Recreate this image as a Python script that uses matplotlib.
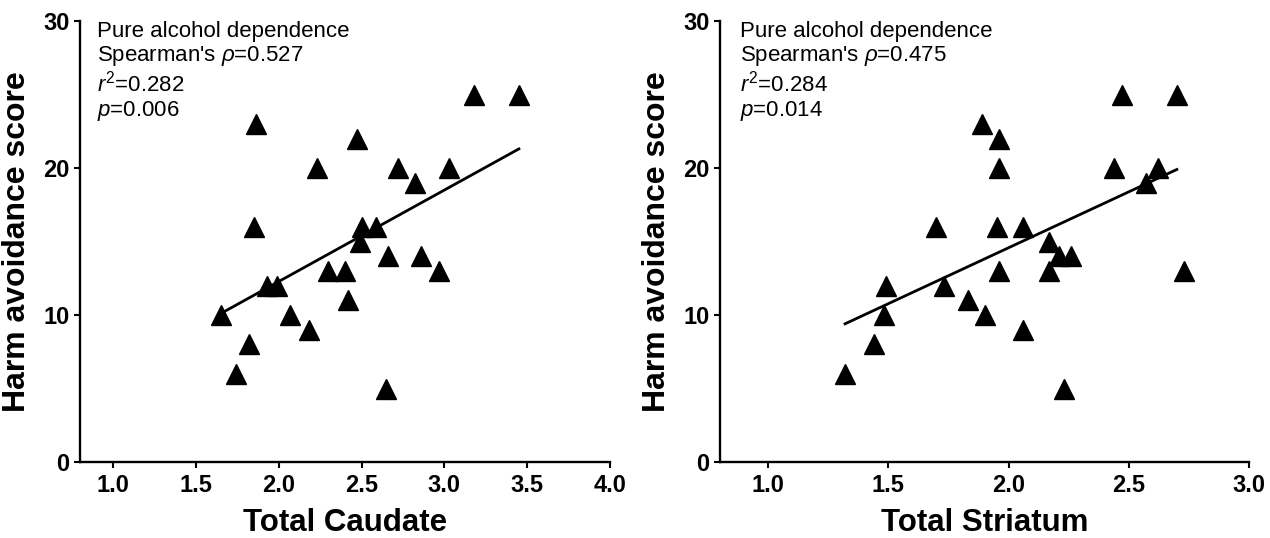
import numpy as np
import matplotlib
matplotlib.use("Agg")
import matplotlib.pyplot as plt

plt.rcParams['font.family'] = ['Liberation Sans', 'DejaVu Sans']
plt.rcParams['mathtext.fontset'] = 'custom'
plt.rcParams['mathtext.rm'] = 'Liberation Sans'
plt.rcParams['mathtext.it'] = 'Liberation Sans:italic'
plt.rcParams['mathtext.bf'] = 'Liberation Sans:bold'

# Left panel: Total Caudate vs Harm avoidance score
caudate_x = [1.65, 1.74, 1.82, 1.85, 1.86, 1.93, 1.99, 2.07, 2.18, 2.23, 2.30, 2.40, 2.42,
             2.47, 2.49, 2.50, 2.59, 2.65, 2.66, 2.72, 2.82, 2.86, 2.97, 3.03, 3.18, 3.45]
caudate_y = [10, 6, 8, 16, 23, 12, 12, 10, 9, 20, 13, 13, 11,
             22, 15, 16, 16, 5, 14, 20, 19, 14, 13, 20, 25, 25]

# Right panel: Total Striatum vs Harm avoidance score
striatum_x = [1.32, 1.44, 1.48, 1.49, 1.70, 1.73, 1.83, 1.89, 1.90, 1.95, 1.96, 1.96, 1.96,
              2.06, 2.06, 2.17, 2.17, 2.21, 2.23, 2.26, 2.44, 2.47, 2.57, 2.62, 2.70, 2.73]
striatum_y = [6, 8, 10, 12, 16, 12, 11, 23, 10, 16, 20, 22, 13,
              16, 9, 15, 13, 14, 5, 14, 20, 25, 19, 20, 25, 13]

# Regression line endpoints
caudate_line_x = [1.65, 3.45]
caudate_line_y = [10.1, 21.3]
striatum_line_x = [1.32, 2.70]
striatum_line_y = [9.4, 19.9]

left_text = "Pure alcohol dependence\nSpearman's $\\mathit{\\rho}$=0.527\n$\\mathit{r}^2$=0.282\n$\\mathit{p}$=0.006"
right_text = "Pure alcohol dependence\nSpearman's $\\mathit{\\rho}$=0.475\n$\\mathit{r}^2$=0.284\n$\\mathit{p}$=0.014"

y_ticks = [0, 10, 20, 30]
left_xticks = [1.0, 1.5, 2.0, 2.5, 3.0, 3.5, 4.0]
right_xticks = [1.0, 1.5, 2.0, 2.5, 3.0]

fig = plt.figure(figsize=(12.7, 5.38), dpi=100)
ax1 = fig.add_axes([80 / 1270, 76 / 538, 530 / 1270, 441 / 538])
ax2 = fig.add_axes([720 / 1270, 76 / 538, 529 / 1270, 441 / 538])

panels = [
    (ax1, caudate_x, caudate_y, caudate_line_x, caudate_line_y, left_xticks, (0.8, 4.0), "Total Caudate", left_text, 0.032),
    (ax2, striatum_x, striatum_y, striatum_line_x, striatum_line_y, right_xticks, (0.8, 3.0), "Total Striatum", right_text, 0.038),
]

for ax, xs, ys, lx, ly, xt, xlim, xlabel, txt, tx in panels:
    ax.plot(xs, ys, linestyle='none', marker='^', markersize=14.5, color='black', clip_on=False)
    ax.plot(lx, ly, color='black', linewidth=2)
    ax.set_xlim(*xlim)
    ax.set_ylim(0, 30)
    ax.set_xticks(xt)
    ax.set_xticklabels([f"{v:.1f}" for v in xt])
    ax.set_yticks(y_ticks)
    ax.set_yticklabels([str(v) for v in y_ticks])
    for s in ['top', 'right']:
        ax.spines[s].set_visible(False)
    for s in ['left', 'bottom']:
        ax.spines[s].set_linewidth(1.7)
    ax.tick_params(axis='both', direction='out', length=4.5, width=1.5, labelsize=17)
    ax.tick_params(axis='x', pad=4)
    ax.tick_params(axis='y', pad=3)
    for lab in ax.get_xticklabels() + ax.get_yticklabels():
        lab.set_fontweight('bold')
    ax.set_xlabel(xlabel, fontsize=22.5, fontweight='bold', labelpad=8)
    ax.set_ylabel("Harm avoidance score", fontsize=23, fontweight='bold', labelpad=8)
    ax.text(tx, 1.0, txt, transform=ax.transAxes, ha='left', va='top',
            fontsize=16, linespacing=1.13)

fig.savefig("out.png", dpi=100)
